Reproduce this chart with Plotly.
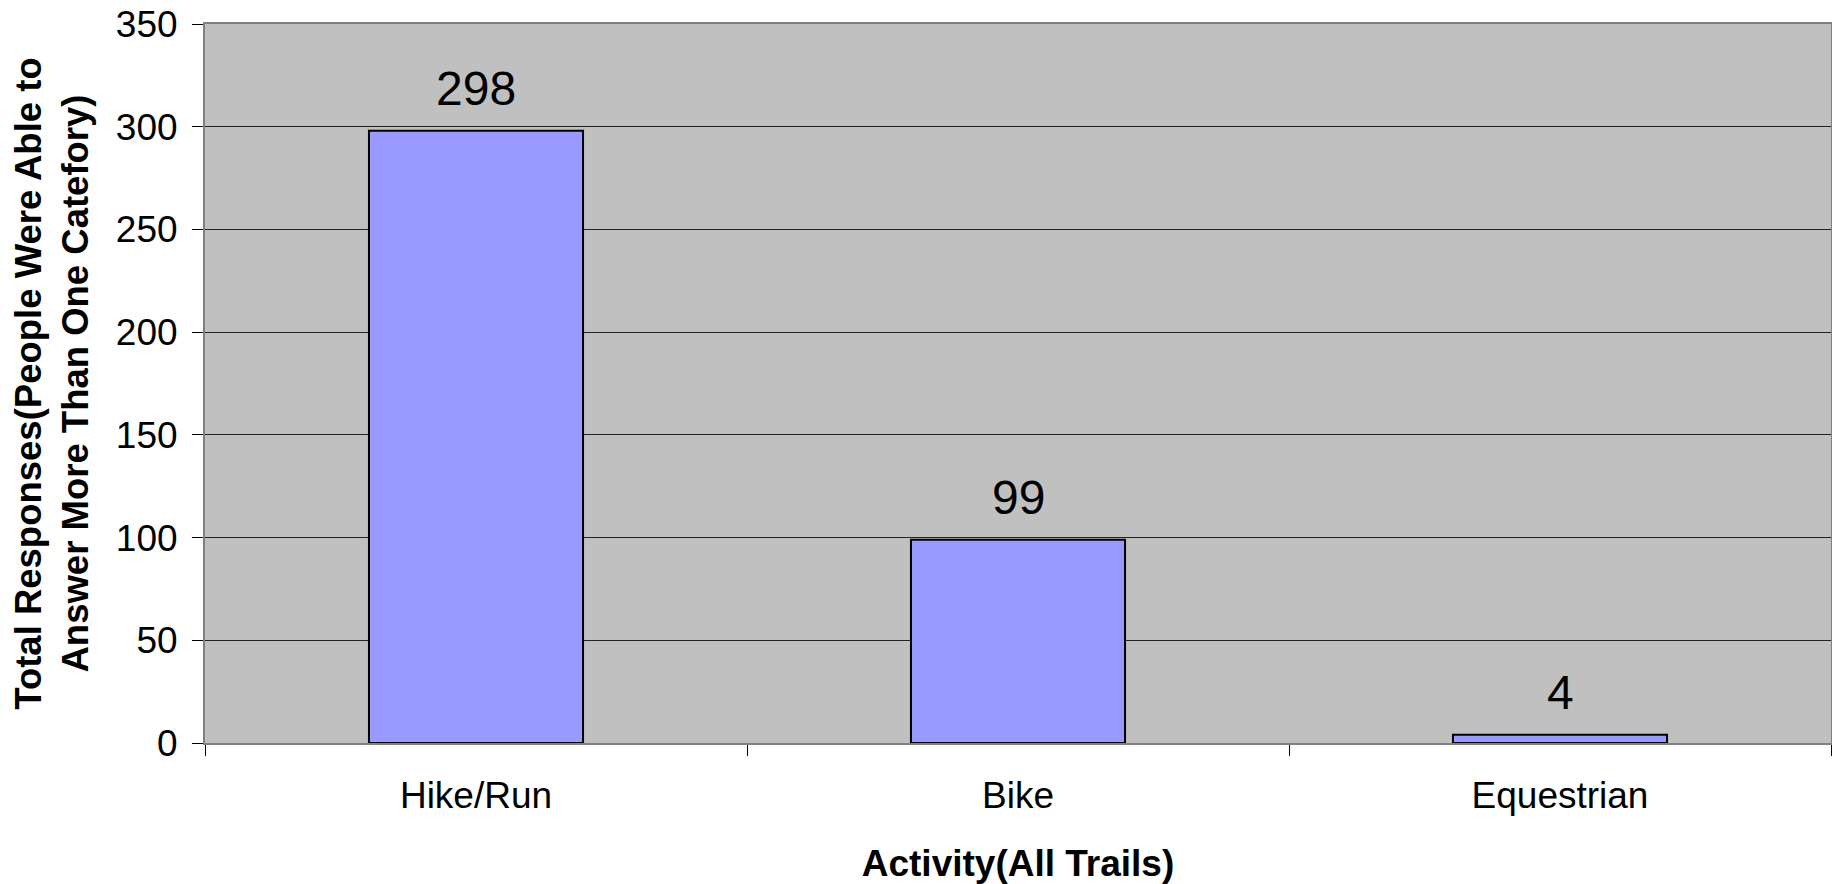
import plotly.graph_objects as go

categories = ["Hike/Run", "Bike", "Equestrian"]
responses = [298, 99, 4]
y_ticks = [0, 50, 100, 150, 200, 250, 300, 350]

x_title = "Activity(All Trails)"
y_title = "Total Responses(People Were Able to<br>Answer More Than One Catefory)"

FONT = "Liberation Sans, Arial, sans-serif"

fig = go.Figure()
fig.add_trace(go.Bar(
    x=categories,
    y=responses,
    marker=dict(color="#9999FF", line=dict(color="#000000", width=2)),
    width=0.395,
    hoverinfo="skip",
))

for c, v in zip(categories, responses):
    fig.add_annotation(
        x=c, y=v, text=str(v), showarrow=False,
        yanchor="bottom", yshift=14,
        font=dict(family=FONT, size=48, color="#000000"),
    )

# page body has an 8px margin, so the figure is sized to fit the remaining window
fig.update_layout(
    width=1832, height=876,
    margin=dict(l=197, r=9, t=16, b=141),
    paper_bgcolor="#FFFFFF",
    plot_bgcolor="#C0C0C0",
    showlegend=False,
    font=dict(family=FONT, color="#000000"),
)

fig.update_xaxes(
    type="category",
    automargin=False,
    tickson="boundaries",
    ticks="outside", ticklen=11, tickcolor="#000000", tickwidth=1,
    showline=True, linecolor="#808080", linewidth=2, mirror=True,
    showgrid=False,
    tickfont=dict(family=FONT, size=37, color="#000000"),
    ticklabelstandoff=19,
    title=dict(text="<b>" + x_title + "</b>", font=dict(family=FONT, size=37, color="#000000"), standoff=38),
)

fig.update_yaxes(
    range=[0, 350],
    automargin=False,
    tickvals=y_ticks,
    ticklabeloverflow="allow",
    ticks="outside", ticklen=11, tickcolor="#000000", tickwidth=1,
    showline=True, linecolor="#808080", linewidth=2, mirror=True,
    showgrid=True, gridcolor="#222222", gridwidth=1,
    zeroline=False,
    tickfont=dict(family=FONT, size=37, color="#000000"),
    ticklabelstandoff=7,
    title=dict(text="<b>" + y_title + "</b>", font=dict(family=FONT, size=36.5, color="#000000"), standoff=17),
)

fig.write_html("out.html")
